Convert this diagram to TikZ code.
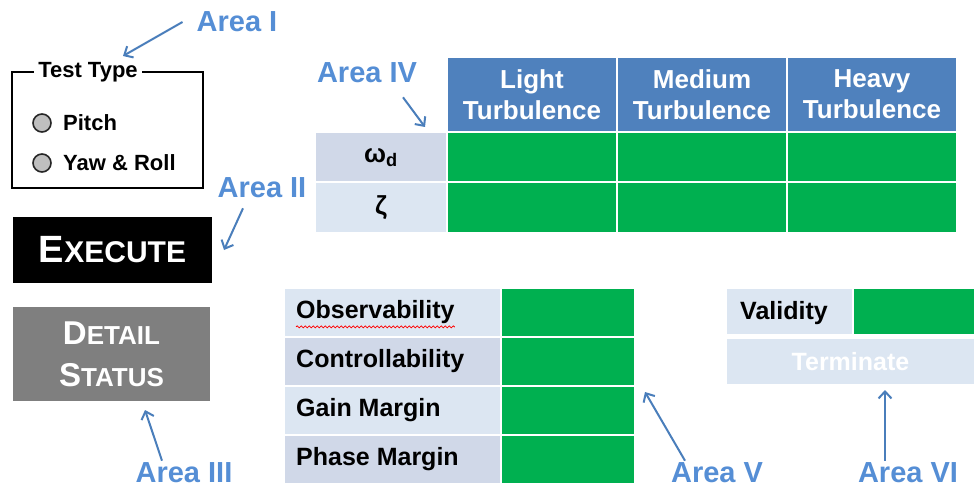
\documentclass[tikz,border=0pt]{standalone}
\usepackage{fontspec}
\setmainfont{Liberation Sans}
\usepackage{tikz}
\usetikzlibrary{arrows.meta,decorations.pathmorphing}

\begin{document}
\begin{tikzpicture}[x=1pt,y=-1pt,
  box/.style={shape=rectangle,inner sep=0pt,outer sep=0pt},
  head/.style={box,fill=chead,text=white,minimum width=168pt,minimum height=73pt,align=center,font=\fontsize{26}{31}\selectfont\bfseries},
  gcell/.style={box,fill=cgreen,minimum width=#1,minimum height=47pt},
  lbl/.style={inner sep=0pt,anchor=west,font=\fontsize{25}{30}\selectfont\bfseries},
  radio/.style={circle,draw=black!85,fill=cradio,line width=1.6pt,minimum size=18pt,inner sep=0pt},
  area/.style={inner sep=2pt,text=carea,font=\fontsize{29}{34}\selectfont\bfseries},
  arr/.style={draw=carrow,line width=2pt,-{Straight Barb[length=7pt,width=13pt]}}]
\definecolor{chead}{rgb}{0.310,0.506,0.741}
\definecolor{cgreen}{rgb}{0.0,0.690,0.314}
\definecolor{crowa}{rgb}{0.863,0.902,0.949}
\definecolor{crowb}{rgb}{0.816,0.847,0.910}
\definecolor{cgray}{rgb}{0.498,0.498,0.498}
\definecolor{cradio}{rgb}{0.749,0.749,0.749}
\definecolor{carea}{rgb}{0.333,0.557,0.835}
\definecolor{carrow}{rgb}{0.290,0.494,0.733}
%
\useasboundingbox (0,0) rectangle (974,489);
%
\node[box,draw,line width=2pt,minimum width=191pt,minimum height=116pt] (testbox) at (107.5,130) {};
\node[fill=white,inner sep=4pt,font=\fontsize{22}{26}\selectfont\bfseries] (testtitle) at (88,72) {Test Type};
\node[radio] (pitchbtn) at (42,123) {};
\node[lbl,font=\fontsize{22}{26}\selectfont\bfseries] (pitch) at (63,123) {Pitch};
\node[radio] (yawbtn) at (42,163) {};
\node[lbl,font=\fontsize{22}{26}\selectfont\bfseries] (yaw) at (63,163) {Yaw \& Roll};
%
\node[box,fill=black,text=white,minimum width=199pt,minimum height=66pt,font=\bfseries] (execute) at (112.5,250) {{\fontsize{38}{38}\selectfont E}\fontsize{30}{30}\selectfont XECUTE};
\node[box,fill=cgray,text=white,minimum width=197pt,minimum height=94pt,align=center,font=\fontsize{26}{42}\selectfont\bfseries] (detail) at (111.5,354) {{\fontsize{33}{42}\selectfont D}ETAIL\\{\fontsize{33}{42}\selectfont S}TATUS};
%
\node[head] (hlight) at (532,94.5) {Light\\Turbulence};
\node[head] (hmedium) at (702,94.5) {Medium\\Turbulence};
\node[head] (hheavy) at (872,94.5) {Heavy\\Turbulence};
\node[box,fill=crowb,minimum width=130pt,minimum height=48pt,font=\fontsize{26}{30}\selectfont\bfseries] (romega) at (381,157.5) {ω\textsubscript{d}};
\node[box,fill=crowa,minimum width=130pt,minimum height=48pt,font=\fontsize{26}{30}\selectfont\bfseries] (rzeta) at (381,207.5) {ζ};
\node[gcell=168pt,minimum height=48pt] (glightw) at (532,157.5) {};
\node[gcell=168pt,minimum height=48pt] (gmediumw) at (702,157.5) {};
\node[gcell=168pt,minimum height=48pt] (gheavyw) at (872,157.5) {};
\node[gcell=168pt,minimum height=48pt] (glightz) at (532,207.5) {};
\node[gcell=168pt,minimum height=48pt] (gmediumz) at (702,207.5) {};
\node[gcell=168pt,minimum height=48pt] (gheavyz) at (872,207.5) {};
%
\node[box,fill=crowa,minimum width=215pt,minimum height=47pt] (cobs) at (392.5,312) {};
\node[box,fill=crowb,minimum width=215pt,minimum height=47pt] (cctrl) at (392.5,361) {};
\node[box,fill=crowa,minimum width=215pt,minimum height=47pt] (cgain) at (392.5,410) {};
\node[box,fill=crowb,minimum width=215pt,minimum height=47pt] (cphase) at (392.5,459) {};
\node[lbl] (tobs) at ([xshift=11pt]cobs.west) {Observability};
\node[lbl] (tctrl) at ([xshift=11pt]cctrl.west) {Controllability};
\node[lbl] (tgain) at ([xshift=11pt]cgain.west) {Gain Margin};
\node[lbl] (tphase) at ([xshift=11pt]cphase.west) {Phase Margin};
\node[gcell=132pt] (gobs) at (568,312) {};
\node[gcell=132pt] (gctrl) at (568,361) {};
\node[gcell=132pt] (ggain) at (568,410) {};
\node[gcell=132pt] (gphase) at (568,459) {};
%
\node[box,fill=crowa,minimum width=125pt,minimum height=45pt] (cvalid) at (789.5,311.5) {};
\node[lbl] (tvalid) at ([xshift=13pt,yshift=-2pt]cvalid.west) {Validity};
\node[gcell=120pt,minimum height=45pt] (gvalid) at (914,311.5) {};
\node[box,fill=crowa,text=white,minimum width=247pt,minimum height=45pt,font=\fontsize{25}{30}\selectfont\bfseries] (terminate) at (850.5,361.5) {Terminate};
%
\node[area] (areaI) at (237,22) {Area I};
\node[area] (areaII) at (262,188) {Area II};
\node[area] (areaIII) at (184,473) {Area III};
\node[area] (areaIV) at (367,73) {Area IV};
\node[area] (areaV) at (717,473) {Area V};
\node[area] (areaVI) at (908,473) {Area VI};
\coordinate (tipI) at (123,56);
\coordinate (tipII) at (224,250);
\coordinate (tipIII) at (145,410);
\coordinate (tipIV) at (425,127);
\coordinate (tipV) at (645,392);
\coordinate (tipVI) at (885,390);
%
\draw[red,line width=0.8pt,decorate,decoration={snake,amplitude=1pt,segment length=4pt}] ([yshift=-3pt]tobs.south west) -- ([yshift=-3pt]tobs.south east);
\draw[arr] ([xshift=-12pt]areaI.west) -- (tipI);
\draw[arr] ([xshift=-19pt,yshift=-8pt]areaII.south) -- (tipII);
\draw[arr] ([xshift=-22pt]areaIII.north) -- (tipIII);
\draw[arr] ([xshift=36pt,yshift=-12pt]areaIV.south) -- (tipIV);
\draw[arr] ([xshift=-32pt]areaV.north) -- (tipV);
\draw[arr] ([xshift=-23pt]areaVI.north) -- (tipVI);
%
\end{tikzpicture}
\end{document}
